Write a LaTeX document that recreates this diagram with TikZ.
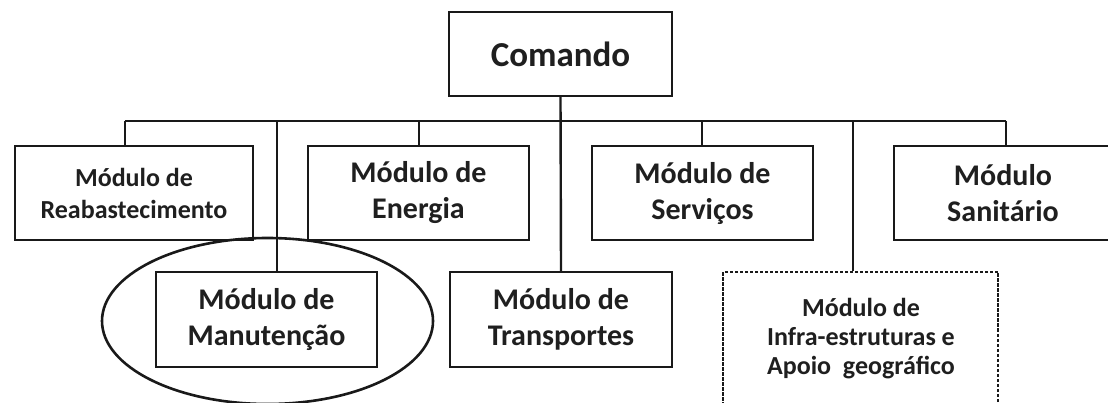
\documentclass[tikz,border=0pt]{standalone}
\usepackage{fontspec}
\setmainfont{Carlito}
\begin{document}
\begin{tikzpicture}[x=1pt,y=-1pt,
  line width=2.4pt,
  box/.style={draw=black!90,rectangle,inner sep=0pt,align=center,text=black!88,line width=2.4pt,
    font=\bfseries\fontsize{30}{36}\selectfont},
  smallbox/.style={box,font=\bfseries\fontsize{26}{32}\selectfont},
  dashbox/.style={draw=black!90,rectangle,inner sep=0pt,line width=2.4pt,dash pattern=on 3.5pt off 1.5pt},
  txt/.style={align=center,inner sep=0pt,text=black!88,font=\bfseries\fontsize{26}{29}\selectfont},
  link/.style={draw=black!90,line width=2.4pt}]
\useasboundingbox (0,0) rectangle (1108,403);
\clip (0,0) rectangle (1108,403);
\fill[white] (0,0) rectangle (1108,403);

% top
\node[box,minimum width=223pt,minimum height=84pt,font=\bfseries\fontsize{35}{40}\selectfont] (cmd) at (560.5,54) {Comando};

% first row
\node[smallbox,minimum width=238pt,minimum height=94pt] (reab) at (134,193) {Módulo de\\Reabastecimento};
\node[box,minimum width=221pt,minimum height=94pt] (ener) at (418.5,193) {Módulo de\\Energia};
\node[box,minimum width=221pt,minimum height=94pt] (serv) at (702.5,193) {Módulo de\\Serviços};
\node[box,minimum width=218pt,minimum height=94pt] (sani) at (1003,193) {Módulo\\Sanitário};

% second row
\node[box,minimum width=221pt,minimum height=95pt] (manu) at (266.5,319.5) {Módulo de\\Manutenção};
\node[box,minimum width=222pt,minimum height=95pt] (trans) at (561,319.5) {Módulo de\\Transportes};
\node[dashbox,minimum width=275pt,minimum height=160pt] (infra) at (860.5,352) {};
\node[txt] (infratxt) at (861,339) {Módulo de\\Infra-estruturas e\\Apoio\ \ geográfico};

% bus
\coordinate (busL) at (125,121);
\coordinate (busR) at (1006,121);
\coordinate (jE) at (419,121);
\coordinate (jS) at (702,121);
\coordinate (jM) at (277,121);
\coordinate (jI) at (853,121);
\draw[link] (busL) -- (busR);
\draw[link] (busL) -- (busL |- reab.north);
\draw[link] (jE) -- (jE |- ener.north);
\draw[link] (jS) -- (jS |- serv.north);
\draw[link] (busR) -- (busR |- sani.north);
\draw[link] (jM) -- (jM |- manu.north);
\draw[link] (jI) -- (jI |- infra.north);
\draw[link] (cmd.south) -- (trans.north);

% highlight ellipse
\draw[draw=black!90,line width=2.6pt] (267.5,321) ellipse [x radius=165.5pt, y radius=83pt];
\end{tikzpicture}
\end{document}
